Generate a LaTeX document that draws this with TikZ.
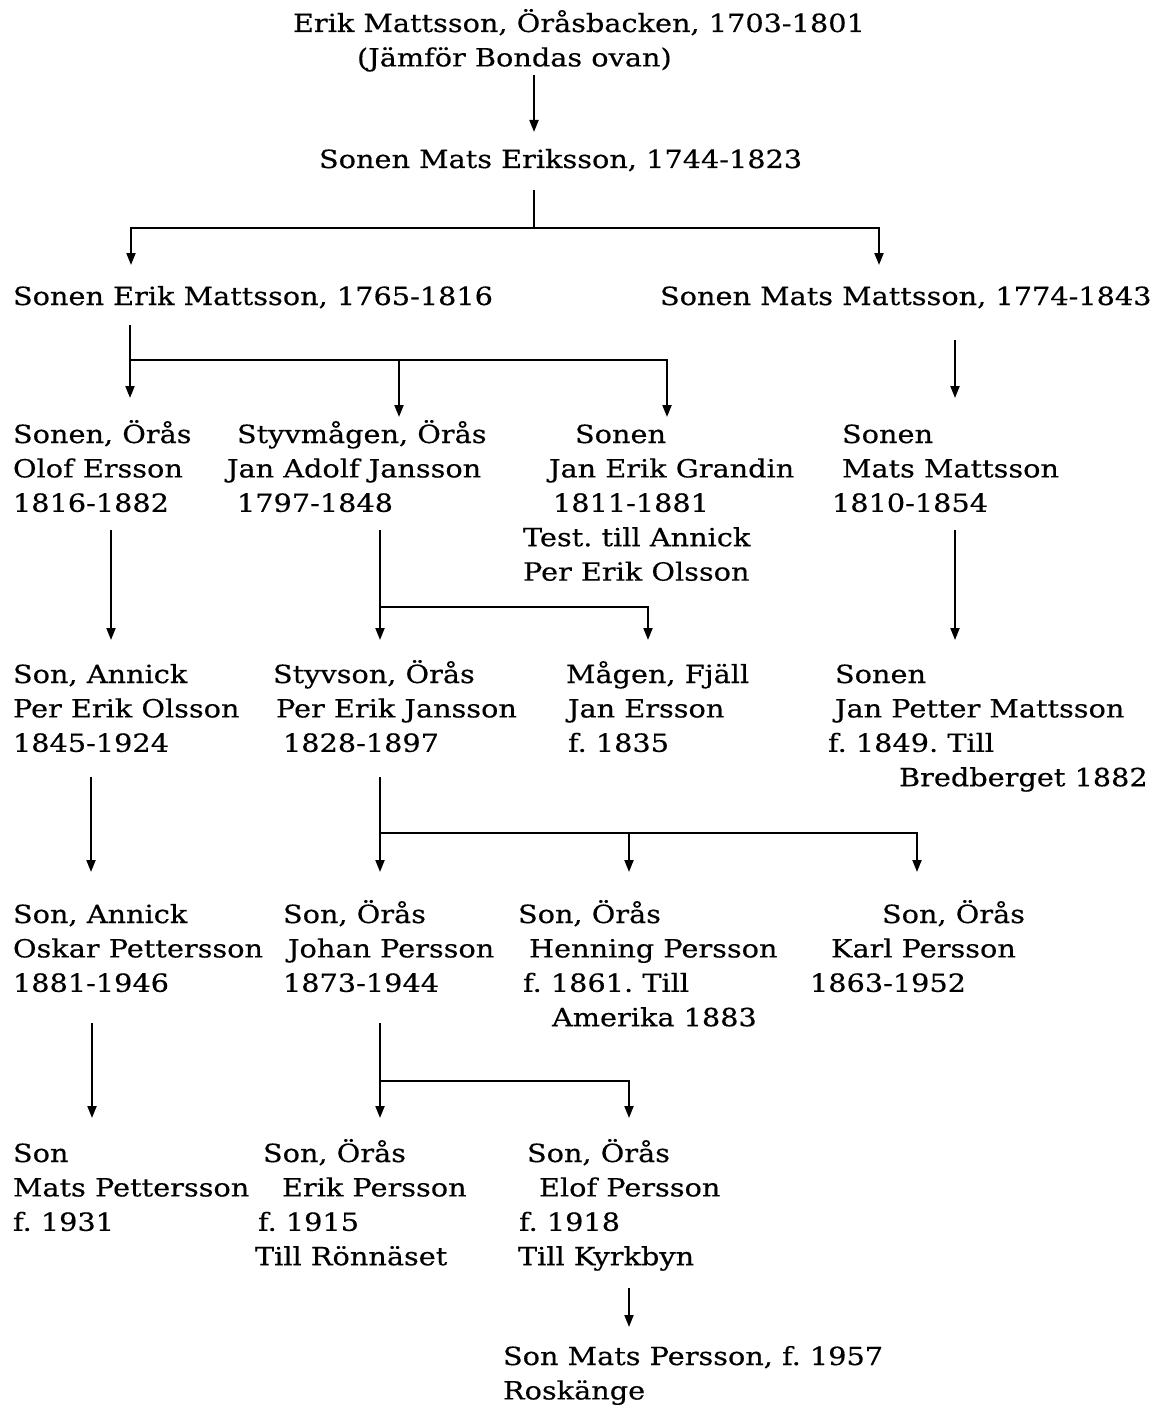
\documentclass[tikz,border=0pt]{standalone}
\usepackage{fontspec}
\setmainfont{DejaVu Serif}[FakeStretch=1.15,FakeBold=0.4]
\usetikzlibrary{arrows.meta}
\newcommand{\rowfont}{\fontsize{25}{34.4}\selectfont\frenchspacing}
\newcommand{\ind}[1]{\hspace*{#1pt}}
\tikzset{
  person/.style={anchor=north west, inner sep=0pt, outer sep=0pt, align=left, font=\rowfont, yshift=24.08pt},
  ln/.style={line width=2pt},
  arr/.style={line width=2pt, -{Triangle[length=12pt,width=9pt]}}
}
\begin{document}
\begin{tikzpicture}[x=1pt,y=-1pt]
\useasboundingbox (0,0) rectangle (1151,1407);
% generation 0
\node[person] (erik0) at (293,32) {\strut Erik Mattsson, Öråsbacken, 1703-1801\\\ind{64}(Jämför Bondas ovan)};
% generation 1
\node[person] (mats1) at (319,168) {\strut Sonen Mats Eriksson, 1744-1823};
% generation 2
\node[person] (erik2) at (13,305) {\strut Sonen Erik Mattsson, 1765-1816};
\node[person] (mats2) at (660,305) {\strut Sonen Mats Mattsson, 1774-1843};
% generation 3
\node[person] (olof) at (13,443) {\strut Sonen, Örås\\Olof Ersson\\1816-1882};
\node[person] (janadolf) at (227,443) {\strut\ind{10}Styvmågen, Örås\\Jan Adolf Jansson\\\ind{10}1797-1848};
\node[person] (grandin) at (523,443) {\strut\ind{52}Sonen\\\ind{26}Jan Erik Grandin\\\ind{30}1811-1881\\Test. till Annick\\Per Erik Olsson};
\node[person] (mats3) at (832,443) {\strut\ind{10}Sonen\\\ind{10}Mats Mattsson\\1810-1854};
% generation 4
\node[person] (perolsson) at (13,683) {\strut Son, Annick\\Per Erik Olsson\\1845-1924};
\node[person] (perjansson) at (273,683) {\strut Styvson, Örås\\\ind{3}Per Erik Jansson\\\ind{10}1828-1897};
\node[person] (janersson) at (566,683) {\strut Mågen, Fjäll\\\ind{2}Jan Ersson\\\ind{2}f. 1835};
\node[person] (janpetter) at (828,683) {\strut\ind{7}Sonen\\\ind{7}Jan Petter Mattsson\\f. 1849. Till\\\ind{71}Bredberget 1882};
% generation 5
\node[person] (oskar) at (13,923) {\strut Son, Annick\\Oskar Pettersson\\1881-1946};
\node[person] (johan) at (283,923) {\strut Son, Örås\\\ind{5}Johan Persson\\1873-1944};
\node[person] (henning) at (518,923) {\strut Son, Örås\\\ind{11}Henning Persson\\\ind{5}f. 1861. Till\\\ind{34}Amerika 1883};
\node[person] (karl) at (810,923) {\strut\ind{72}Son, Örås\\\ind{21}Karl Persson\\1863-1952};
% generation 6
\node[person] (matsp) at (13,1162) {\strut Son\\Mats Pettersson\\f. 1931};
\node[person] (erikp) at (255,1162) {\strut\ind{8}Son, Örås\\\ind{27}Erik Persson\\\ind{3}f. 1915\\Till Rönnäset};
\node[person] (elofp) at (518,1162) {\strut\ind{9}Son, Örås\\\ind{21}Elof Persson\\\ind{1}f. 1918\\Till Kyrkbyn};
% generation 7
\node[person] (matsp7) at (503,1365) {\strut Son Mats Persson, f. 1957\\Roskänge};

% connector coordinates
\coordinate (a1) at (534,75);   \coordinate (b1) at (534,132);
\coordinate (a2) at (534,190);  \coordinate (j2) at (534,228);
\coordinate (l2) at (131,228);  \coordinate (r2) at (879,228);
\coordinate (l2e) at (131,265); \coordinate (r2e) at (879,265);
\coordinate (a3) at (130,325);  \coordinate (j3) at (130,360); \coordinate (a3e) at (130,398);
\coordinate (m3) at (399,360);  \coordinate (m3e) at (399,417);
\coordinate (g3) at (667,360);  \coordinate (g3e) at (667,417);
\coordinate (s3) at (955,340);  \coordinate (s3e) at (955,398);
\coordinate (o4) at (111,530);  \coordinate (o4e) at (111,640);
\coordinate (j4) at (380,530);  \coordinate (j4h) at (380,607); \coordinate (j4e) at (380,640);
\coordinate (e4) at (648,607);  \coordinate (e4e) at (648,640);
\coordinate (p4) at (955,530);  \coordinate (p4e) at (955,640);
\coordinate (o5) at (91,777);   \coordinate (o5e) at (91,872);
\coordinate (j5) at (380,777);  \coordinate (j5h) at (380,833); \coordinate (j5e) at (380,872);
\coordinate (h5) at (629,833);  \coordinate (h5e) at (629,872);
\coordinate (k5) at (917,833);  \coordinate (k5e) at (917,872);
\coordinate (o6) at (92,1023);  \coordinate (o6e) at (92,1118);
\coordinate (j6) at (380,1023); \coordinate (j6h) at (380,1081); \coordinate (j6e) at (380,1118);
\coordinate (f6) at (629,1081); \coordinate (f6e) at (629,1118);
\coordinate (m7) at (629,1288); \coordinate (m7e) at (629,1327);

% connectors
\draw[arr] (a1) -- (b1);
\draw[ln] (a2) -- (j2);
\draw[arr] (j2) -- (l2) -- (l2e);
\draw[arr] (j2) -- (r2) -- (r2e);
\draw[arr] (a3) -- (a3e);
\draw[arr] (j3) -- (m3) -- (m3e);
\draw[arr] (m3) -- (g3) -- (g3e);
\draw[arr] (s3) -- (s3e);
\draw[arr] (o4) -- (o4e);
\draw[arr] (j4) -- (j4e);
\draw[arr] (j4h) -- (e4) -- (e4e);
\draw[arr] (p4) -- (p4e);
\draw[arr] (o5) -- (o5e);
\draw[arr] (j5) -- (j5e);
\draw[arr] (j5h) -- (h5) -- (h5e);
\draw[arr] (h5) -- (k5) -- (k5e);
\draw[arr] (o6) -- (o6e);
\draw[arr] (j6) -- (j6e);
\draw[arr] (j6h) -- (f6) -- (f6e);
\draw[arr] (m7) -- (m7e);
\end{tikzpicture}
\end{document}
